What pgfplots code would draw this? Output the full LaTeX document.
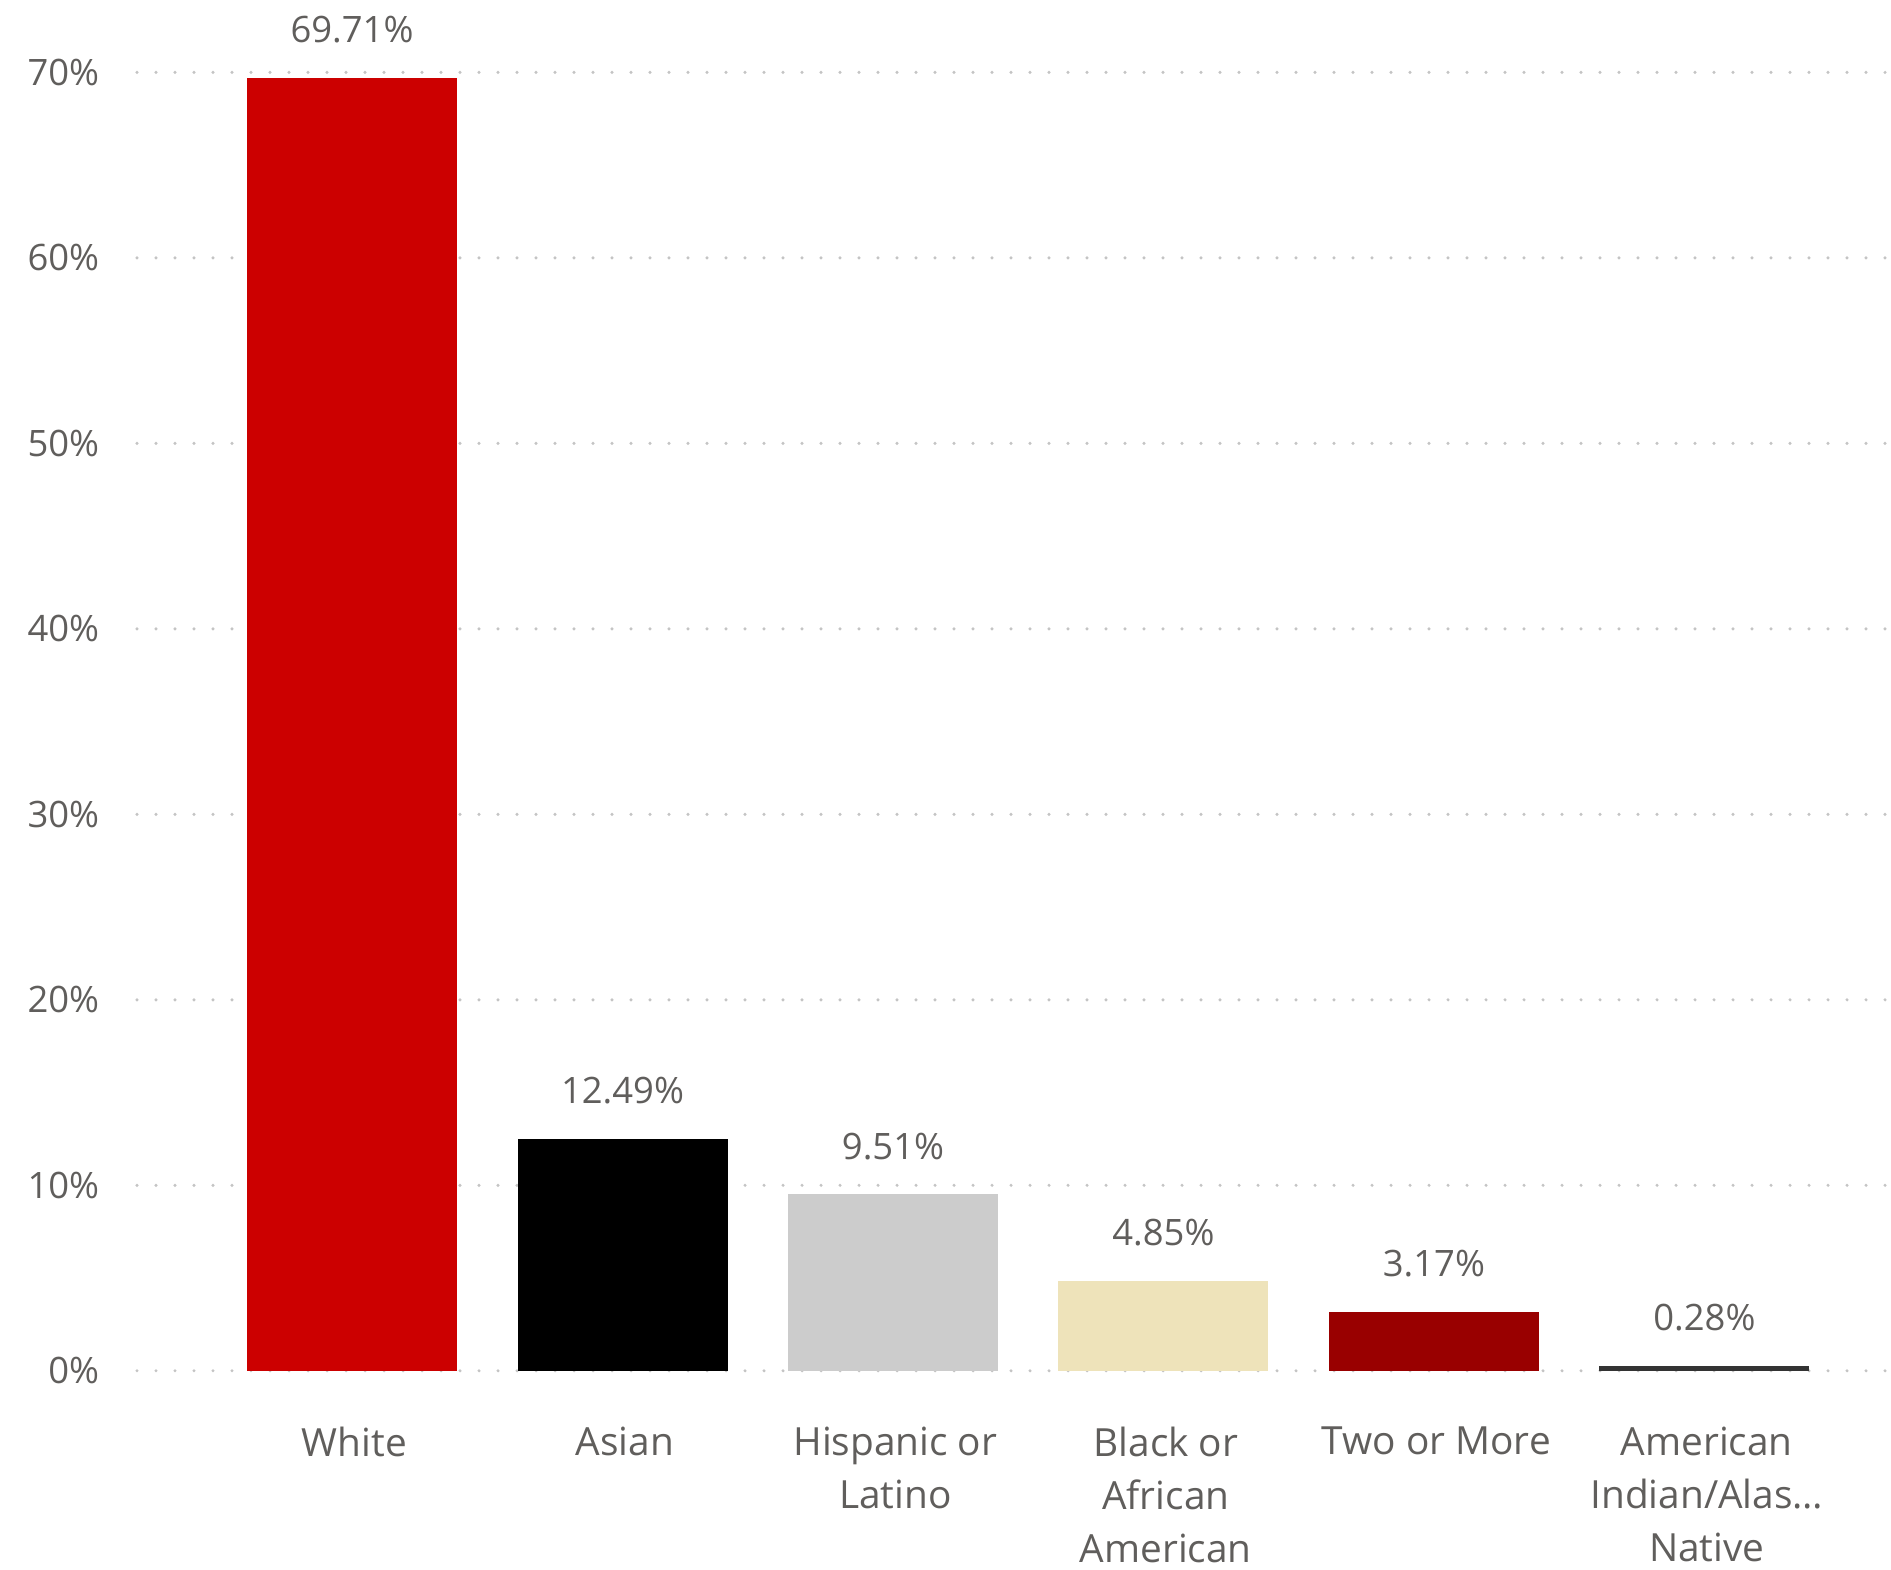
\documentclass[border=0pt]{standalone}
\usepackage{pgfplots}
\pgfplotsset{compat=1.18}
\usepackage{fontspec}
\setmainfont{Open Sans}
\definecolor{txt}{HTML}{605E5C}
\definecolor{gridc}{HTML}{C4C4C4}
\definecolor{cWhite}{HTML}{CC0000}
\definecolor{cAsian}{HTML}{000000}
\definecolor{cHisp}{HTML}{CCCCCC}
\definecolor{cBlack}{HTML}{EEE3BA}
\definecolor{cTwo}{HTML}{990000}
\definecolor{cAmInd}{HTML}{333333}
\begin{document}
\begin{tikzpicture}
\useasboundingbox (-34.25pt,-49.8pt) rectangle (438.5pt,342.7pt);
\begin{axis}[
  scale only axis,
  width=438.5pt, height=324.6pt,
  ybar, bar width=52.5pt, bar shift=0pt,
  xmin=-0.795, xmax=5.69,
  ymin=0, ymax=70,
  clip=false,
  axis line style={draw=none},
  major tick length=0pt,
  xtick={0,1,2,3,4,5},
  xticklabels={{White}, {Asian}, {Hispanic or\\Latino}, {Black or\\African\\American}, {Two or More}, {American\\Indian/Alas…\\Native}},
  xticklabel style={font=\fontsize{9.7}{13.25}\selectfont, text=txt, align=center, anchor=north, inner sep=0pt, yshift=-13.9pt, xshift=0.6pt},
  ytick={0,10,20,30,40,50,60,70},
  yticklabel={\pgfmathprintnumber[assume math mode=true]{\tick}\%},
  yticklabel style={font=\fontsize{9.1}{11}\selectfont, text=txt, anchor=east, inner sep=0pt, xshift=-9.25pt},
  ymajorgrids,
  major grid style={draw=gridc, line width=0.85pt, dash pattern=on 0pt off 4.75pt, line cap=round},
  nodes near coords={\pgfmathprintnumber[fixed,fixed zerofill,precision=2,assume math mode=true]{\pgfplotspointmeta}\%},
  nodes near coords style={font=\fontsize{9.1}{11}\selectfont, text=txt, anchor=south, inner sep=0pt, yshift=8.5pt},
  every axis plot/.append style={draw=none},
]
\addplot[fill=cWhite] coordinates {(0,69.71)};
\addplot[fill=cAsian] coordinates {(1,12.49)};
\addplot[fill=cHisp] coordinates {(2,9.51)};
\addplot[fill=cBlack] coordinates {(3,4.85)};
\addplot[fill=cTwo] coordinates {(4,3.17)};
\addplot[fill=cAmInd] coordinates {(5,0.28)};
\end{axis}
\end{tikzpicture}
\end{document}
